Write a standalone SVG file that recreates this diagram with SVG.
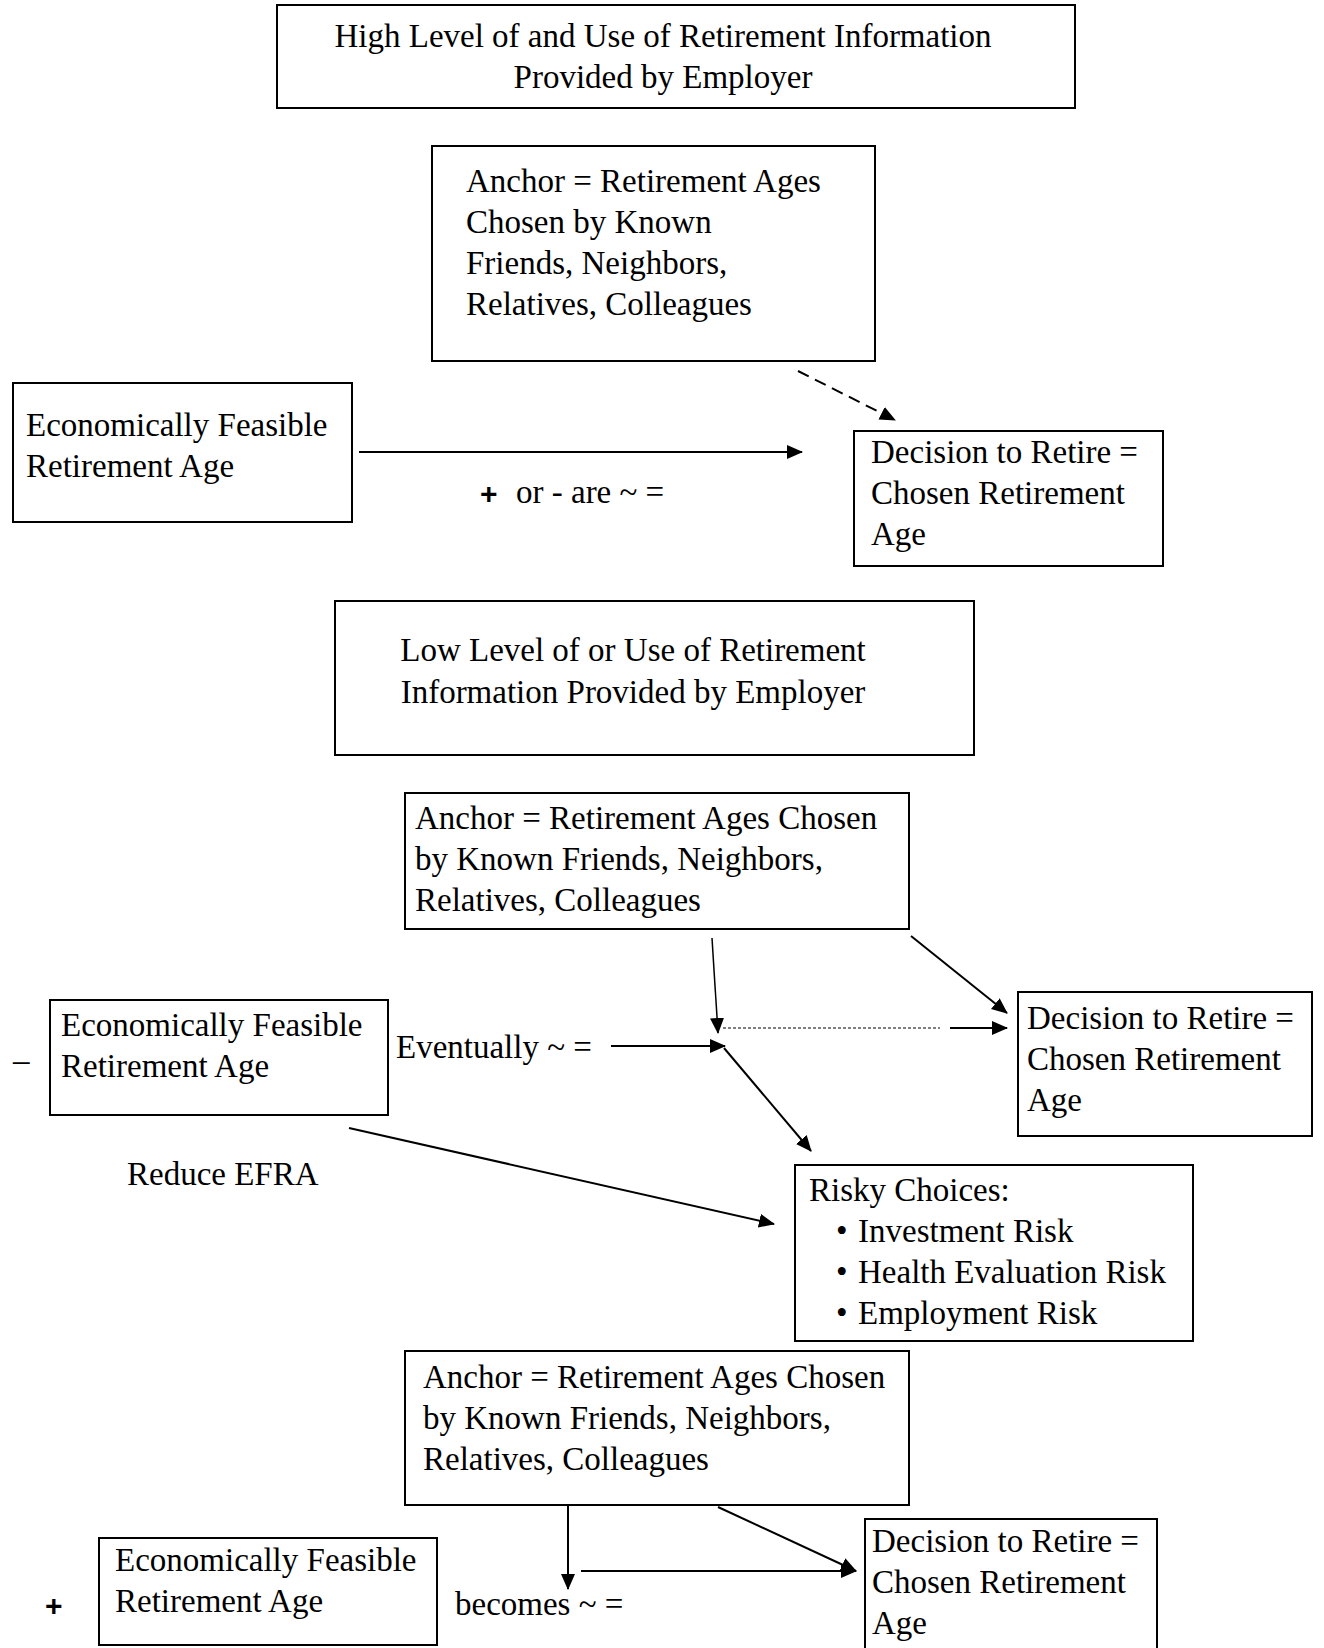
<svg xmlns="http://www.w3.org/2000/svg" width="1324" height="1648" viewBox="0 0 1324 1648">
<style>
.box{fill:#fff;stroke:#000;stroke-width:2}
.t{font-family:"Liberation Serif","Times New Roman",serif;font-size:33px;fill:#000}
.c{text-anchor:middle}
.ln{stroke:#000;stroke-width:2;fill:none}
.thin{stroke:#000;stroke-width:1.5;fill:none}
.dash{stroke:#000;stroke-width:2;fill:none;stroke-dasharray:12,7}
.dot{stroke:#000;stroke-width:1;fill:none;stroke-dasharray:3,2}
.sym{font-family:"Liberation Sans",Arial,sans-serif;font-size:30px;font-weight:bold;fill:#000}
</style>
<defs>
<marker id="ah" markerUnits="userSpaceOnUse" markerWidth="16" markerHeight="14" refX="15" refY="7" orient="auto">
<path d="M0,0 L16,7 L0,14 z" fill="#000"/>
</marker>
</defs>
<rect width="1324" height="1648" fill="#fff"/>

<g id="connectors">
<line class="ln" x1="359" y1="452" x2="802" y2="452" marker-end="url(#ah)"/>
<line class="dash" x1="798" y1="371" x2="895" y2="420" marker-end="url(#ah)"/>
<line class="thin" x1="712" y1="938" x2="718" y2="1033" marker-end="url(#ah)"/>
<line class="ln" x1="611" y1="1046" x2="725" y2="1046" marker-end="url(#ah)"/>
<line class="dot" x1="723" y1="1028" x2="940" y2="1028"/>
<line class="ln" x1="950" y1="1028" x2="1007" y2="1028" marker-end="url(#ah)"/>
<line class="ln" x1="911" y1="936" x2="1007" y2="1013" marker-end="url(#ah)"/>
<line class="ln" x1="724" y1="1048" x2="811" y2="1151" marker-end="url(#ah)"/>
<line class="ln" x1="349" y1="1128" x2="774" y2="1224" marker-end="url(#ah)"/>
<line class="ln" x1="568" y1="1505" x2="568" y2="1589" marker-end="url(#ah)"/>
<line class="ln" x1="581" y1="1571" x2="856" y2="1571" marker-end="url(#ah)"/>
<line class="ln" x1="718" y1="1507" x2="856" y2="1571" marker-end="url(#ah)"/>
</g>

<g id="high-info">
<rect class="box" x="277" y="5" width="798" height="103"/>
<text class="t c" x="663" y="47">High Level of and Use of Retirement Information</text>
<text class="t c" x="663" y="88">Provided by Employer</text>
</g>

<g id="anchor-1">
<rect class="box" x="432" y="146" width="443" height="215"/>
<text class="t" x="466" y="192">Anchor = Retirement Ages</text>
<text class="t" x="466" y="233">Chosen by Known</text>
<text class="t" x="466" y="274">Friends, Neighbors,</text>
<text class="t" x="466" y="315">Relatives, Colleagues</text>
</g>

<g id="efra-1">
<rect class="box" x="13" y="383" width="339" height="139"/>
<text class="t" x="26" y="436">Economically Feasible</text>
<text class="t" x="26" y="477">Retirement Age</text>
</g>

<g id="label-1">
<text class="sym" x="480" y="504">+</text>
<text class="t" x="516" y="503">or - are ~ =</text>
</g>

<g id="decision-1">
<rect class="box" x="854" y="431" width="309" height="135"/>
<text class="t" x="871" y="463">Decision to Retire =</text>
<text class="t" x="871" y="504">Chosen Retirement</text>
<text class="t" x="871" y="545">Age</text>
</g>

<g id="low-info">
<rect class="box" x="335" y="601" width="639" height="154"/>
<text class="t c" x="633" y="661">Low Level of or Use of Retirement</text>
<text class="t c" x="633" y="703">Information Provided by Employer</text>
</g>

<g id="anchor-2">
<rect class="box" x="405" y="793" width="504" height="136"/>
<text class="t" x="415" y="829">Anchor = Retirement Ages Chosen</text>
<text class="t" x="415" y="870">by Known Friends, Neighbors,</text>
<text class="t" x="415" y="911">Relatives, Colleagues</text>
</g>

<g id="efra-2">
<rect class="box" x="50" y="1000" width="338" height="115"/>
<text class="t" x="61" y="1036">Economically Feasible</text>
<text class="t" x="61" y="1077">Retirement Age</text>
<text class="t" x="13" y="1071">–</text>
</g>

<g id="label-2">
<text class="t" x="396" y="1058">Eventually ~ =</text>
<text class="t" x="127" y="1185">Reduce EFRA</text>
</g>

<g id="decision-2">
<rect class="box" x="1018" y="992" width="294" height="144"/>
<text class="t" x="1027" y="1029">Decision to Retire =</text>
<text class="t" x="1027" y="1070">Chosen Retirement</text>
<text class="t" x="1027" y="1111">Age</text>
</g>

<g id="risky">
<rect class="box" x="795" y="1165" width="398" height="176"/>
<text class="t" x="809" y="1201">Risky Choices:</text>
<text class="t" x="836" y="1242">•</text>
<text class="t" x="858" y="1242">Investment Risk</text>
<text class="t" x="836" y="1283">•</text>
<text class="t" x="858" y="1283">Health Evaluation Risk</text>
<text class="t" x="836" y="1324">•</text>
<text class="t" x="858" y="1324">Employment Risk</text>
</g>

<g id="anchor-3">
<rect class="box" x="405" y="1351" width="504" height="154"/>
<text class="t" x="423" y="1388">Anchor = Retirement Ages Chosen</text>
<text class="t" x="423" y="1429">by Known Friends, Neighbors,</text>
<text class="t" x="423" y="1470">Relatives, Colleagues</text>
</g>

<g id="efra-3">
<rect class="box" x="99" y="1538" width="338" height="107"/>
<text class="t" x="115" y="1571">Economically Feasible</text>
<text class="t" x="115" y="1612">Retirement Age</text>
<text class="sym" x="45" y="1616">+</text>
</g>

<g id="label-3">
<text class="t" x="455" y="1615">becomes ~ =</text>
</g>

<g id="decision-3">
<rect class="box" x="865" y="1519" width="292" height="140"/>
<text class="t" x="872" y="1552">Decision to Retire =</text>
<text class="t" x="872" y="1593">Chosen Retirement</text>
<text class="t" x="872" y="1634">Age</text>
</g>
</svg>
